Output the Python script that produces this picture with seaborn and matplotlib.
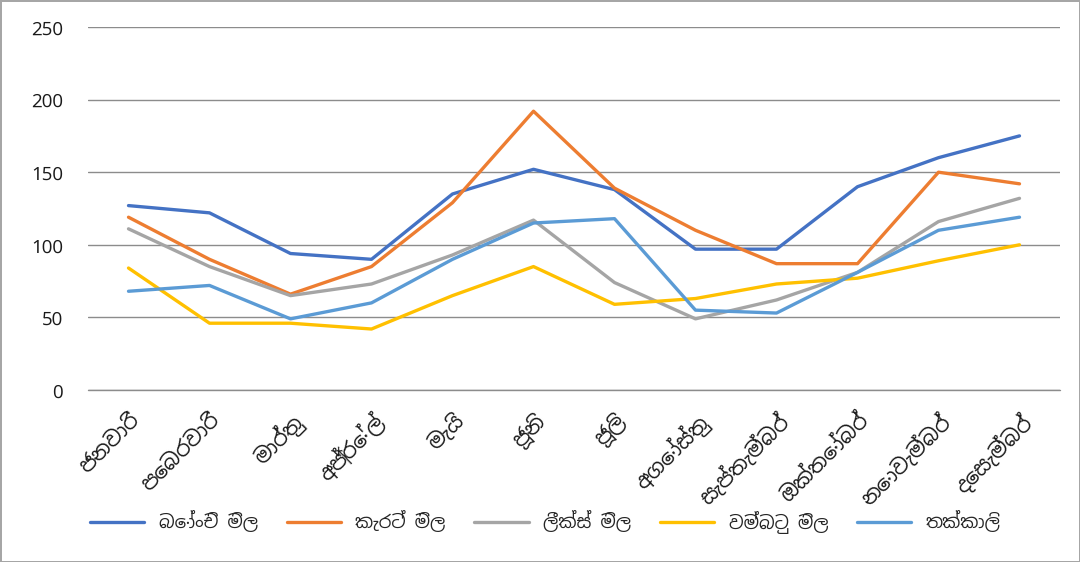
import matplotlib
matplotlib.use("Agg")
import matplotlib.pyplot as plt
from matplotlib import font_manager
import seaborn as sns
import pandas as pd

months = ["ජනවාරි", "පෙබරවාරි", "මාර්තු", "අප්‍රේල්", "මැයි", "ජූනි",
          "ජූලි", "අගෝස්තු", "සැප්තැම්බර්", "ඔක්තෝබර්", "නොවැම්බර්", "දෙසැම්බර්"]
series_names = ["බෝංචි මිල", "කැරට් මිල", "ලීක්ස් මිල", "වම්බටු මිල", "තක්කාලි"]
beans = [127, 122, 94, 90, 135, 152, 138, 97, 97, 140, 160, 175]
carrot = [119, 90, 66, 85, 129, 192, 139, 110, 87, 87, 150, 142]
leeks = [111, 85, 65, 73, 93, 117, 74, 49, 62, 81, 116, 132]
brinjal = [84, 46, 46, 42, 65, 85, 59, 63, 73, 77, 89, 100]
tomato = [68, 72, 49, 60, 90, 115, 118, 55, 53, 81, 110, 119]
y_ticks = [0, 50, 100, 150, 200, 250]
colors = ["#4472C4", "#ED7D31", "#A5A5A5", "#FFC000", "#5B9BD5"]

sns.set_style("white")

# find a font with Sinhala glyphs, if any
sinhala_family = None
try:
    from fontTools.ttLib import TTFont
    for f in font_manager.fontManager.ttflist:
        if "sinhala" in f.name.lower() or "iskoola" in f.name.lower():
            sinhala_family = f.name
            break
    if sinhala_family is None:
        for f in font_manager.fontManager.ttflist:
            try:
                tt = TTFont(f.fname, fontNumber=0, lazy=True)
                cmap = tt.getBestCmap()
                if cmap and 0x0DB8 in cmap:
                    sinhala_family = f.name
                    break
            except Exception:
                pass
except Exception:
    pass

fams = ([sinhala_family] if sinhala_family else []) + ["DejaVu Sans"]
plt.rcParams["font.family"] = fams

all_vals = [beans, carrot, leeks, brinjal, tomato]
rows = []
for name, vals in zip(series_names, all_vals):
    for i, v in enumerate(vals):
        rows.append({"month": i, "value": v, "series": name})
df = pd.DataFrame(rows)

fig = plt.figure(figsize=(10.8, 5.62), dpi=100)
fig.patch.set_edgecolor("#A6A6A6")
fig.patch.set_linewidth(2)
ax = fig.add_axes([88 / 1080, 1 - 390 / 562, (1060 - 88) / 1080, (390 - 27) / 562])

ax.axhline(0, color="#8C8C8C", linewidth=1.0, zorder=0, clip_on=False)
sns.lineplot(data=df, x="month", y="value", hue="series", hue_order=series_names,
             palette=colors, linewidth=2.4, ax=ax, legend=True)

ax.set_xlim(-0.5, 11.5)
ax.set_ylim(0, 250)
ax.set_yticks(y_ticks)
ax.set_yticklabels([str(t) for t in y_ticks], fontsize=13.5, color="#1a1a1a")
ax.set_xticks(range(12))
ax.set_xticklabels(months, rotation=45, ha="right", rotation_mode="anchor",
                   fontsize=15, color="#1a1a1a")
ax.tick_params(axis="y", length=0, pad=18)
ax.tick_params(axis="x", length=0, pad=14)
ax.set_xlabel("")
ax.set_ylabel("")
ax.yaxis.grid(True, color="#8C8C8C", linewidth=1.0)
ax.set_axisbelow(True)
for s in ax.spines.values():
    s.set_visible(False)

handles, labels = ax.get_legend_handles_labels()
ax.get_legend().remove()
fig.legend(handles, labels, loc="center", bbox_to_anchor=(0.505, 1 - 522 / 562),
           ncol=5, frameon=False, fontsize=13, handlelength=3, columnspacing=1.6,
           handletextpad=0.8)

fig.savefig("out.png", dpi=100)
